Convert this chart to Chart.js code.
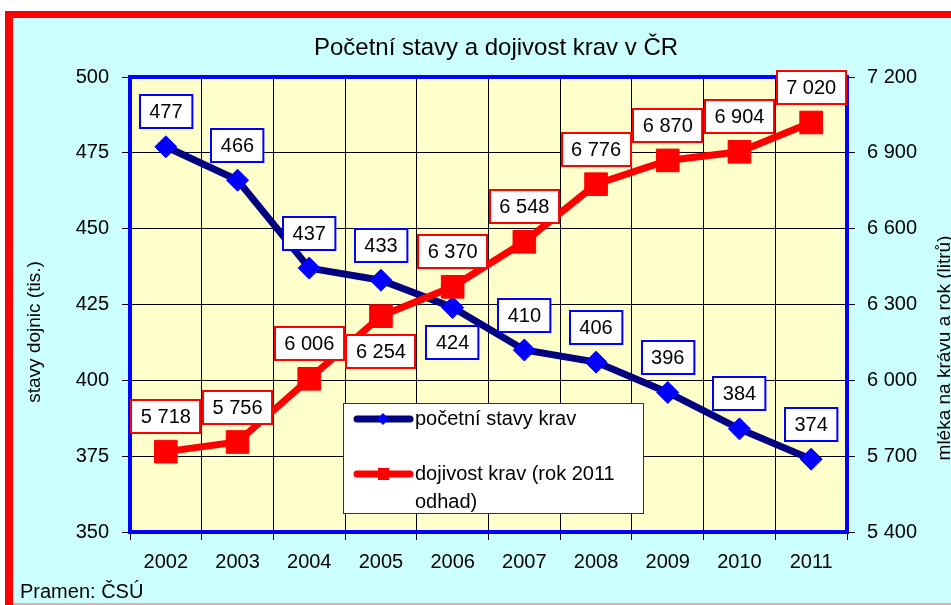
<!DOCTYPE html>
<html>
<head>
<meta charset="utf-8">
<script src="https://cdn.jsdelivr.net/npm/chart.js@4/dist/chart.umd.min.js"></script>
<style>
html,body{margin:0;padding:0;background:#fff;}
canvas{display:block;}
</style>
</head>
<body>
<canvas id="c" width="951" height="605"></canvas>
<script>
// ---- data ----
const years = ['2002','2003','2004','2005','2006','2007','2008','2009','2010','2011'];
const herdSize = [477, 466, 437, 433, 424, 410, 406, 396, 384, 374];          // thousands of cows
const milkYield = [5718, 5756, 6006, 6254, 6370, 6548, 6776, 6870, 6904, 7020]; // litres per cow per year
const herdLabel = 'početní stavy krav';
const milkLabel = 'dojivost krav (rok 2011 odhad)';
const titleText = 'Početní stavy a dojivost krav v ČR';
const leftAxisTitle = 'stavy dojnic (tis.)';
const rightAxisTitle = 'mléka na krávu a rok (litrů)';
const sourceText = 'Pramen: ČSÚ';

const FONT = '"Liberation Sans", Arial, sans-serif';
Chart.defaults.font.family = FONT;

function fmt(v){ return String(v).replace(/\B(?=(\d{3})+(?!\d))/g, ' '); }

// indices whose value label sits below the point
const herdBelow = new Set([4]);
const milkBelow = new Set([3]);

const framePlugin = {
  id: 'frame',
  beforeDraw(chart){
    const ctx = chart.ctx, W = chart.width, H = chart.height, a = chart.chartArea;
    ctx.save();
    ctx.fillStyle = '#ffffff'; ctx.fillRect(0,0,W,H);
    ctx.fillStyle = '#ff0000'; ctx.fillRect(5,11,W-5,H-11);
    ctx.fillStyle = '#ccffff'; ctx.fillRect(13,18,W-13,H-20);
    ctx.fillStyle = '#f4a0a0'; ctx.fillRect(13,H-2,W-13,2);
    ctx.fillStyle = '#ffffcc'; ctx.fillRect(a.left,a.top,a.right-a.left,a.bottom-a.top);
    ctx.restore();
  },
  beforeDatasetsDraw(chart){
    const ctx = chart.ctx, a = chart.chartArea;
    ctx.save();
    ctx.strokeStyle = '#0000ff'; ctx.lineWidth = 4;
    ctx.strokeRect(a.left, a.top, a.right-a.left, a.bottom-a.top);
    ctx.restore();
  },
  afterDatasetsDraw(chart){
    const ctx = chart.ctx;
    ctx.save();
    ctx.font = '20px ' + FONT;
    ctx.textAlign = 'center';
    ctx.textBaseline = 'middle';
    const drawLabels = (dsIndex, values, below, color) => {
      const meta = chart.getDatasetMeta(dsIndex);
      meta.data.forEach((pt, i) => {
        const txt = fmt(values[i]);
        const w = ctx.measureText(txt).width + 19, h = 33;
        const cy = below.has(i) ? pt.y + 35 : pt.y - 35;
        const x0 = Math.round(pt.x - w/2), y0 = Math.round(cy - h/2);
        ctx.fillStyle = '#ffffff';
        ctx.fillRect(x0, y0, w, h);
        ctx.strokeStyle = color; ctx.lineWidth = 2;
        ctx.strokeRect(x0, y0, w, h);
        ctx.fillStyle = '#000000';
        ctx.fillText(txt, pt.x, cy + 1);
      });
    };
    drawLabels(1, milkYield, milkBelow, '#ff0000');
    drawLabels(0, herdSize, herdBelow, '#0000ff');
    ctx.restore();
  },
  afterDraw(chart){
    const ctx = chart.ctx;
    ctx.save();
    ctx.fillStyle = '#000000';
    // title
    ctx.font = '24px ' + FONT;
    ctx.textAlign = 'center'; ctx.textBaseline = 'alphabetic';
    ctx.fillText(titleText, 496, 55);
    // axis titles
    ctx.font = '19px ' + FONT;
    ctx.textBaseline = 'middle';
    ctx.save(); ctx.translate(35, 332); ctx.rotate(-Math.PI/2); ctx.fillText(leftAxisTitle, 0, 0); ctx.restore();
    ctx.save(); ctx.translate(945, 348); ctx.rotate(-Math.PI/2); ctx.fillText(rightAxisTitle, 0, 0); ctx.restore();
    // source
    ctx.font = '20px ' + FONT;
    ctx.textAlign = 'left';
    ctx.fillText(sourceText, 20, 592);
    // legend
    const lx = 343, ly = 403, lw = 300, lh = 110;
    ctx.fillStyle = '#ffffff'; ctx.fillRect(lx, ly, lw, lh);
    ctx.strokeStyle = '#333333'; ctx.lineWidth = 1; ctx.strokeRect(lx+0.5, ly+0.5, lw, lh);
    ctx.lineCap = 'round'; ctx.lineWidth = 7;
    // herd sample
    ctx.strokeStyle = '#000080';
    ctx.beginPath(); ctx.moveTo(357, 419); ctx.lineTo(410, 419); ctx.stroke();
    ctx.fillStyle = '#0000ff';
    ctx.beginPath(); ctx.moveTo(383, 413); ctx.lineTo(389, 419); ctx.lineTo(383, 425); ctx.lineTo(377, 419); ctx.closePath(); ctx.fill();
    // milk sample
    ctx.strokeStyle = '#ff0000';
    ctx.beginPath(); ctx.moveTo(357, 474); ctx.lineTo(410, 474); ctx.stroke();
    ctx.fillStyle = '#ff0000'; ctx.fillRect(378, 468, 11, 12);
    ctx.fillStyle = '#000000';
    ctx.font = '20px ' + FONT;
    ctx.textBaseline = 'middle';
    ctx.fillText(herdLabel, 415, 419);
    const parts = milkLabel.split(' odhad');
    ctx.fillText(parts[0], 415, 474);
    ctx.fillText('odhad' + parts[1], 415, 502);
    ctx.restore();
  }
};

new Chart(document.getElementById('c'), {
  type: 'line',
  data: {
    labels: years,
    datasets: [
      {
        label: herdLabel, data: herdSize, yAxisID: 'y', order: 1,
        borderColor: '#000080', borderWidth: 7,
        pointStyle: 'rectRot', pointRadius: 11, pointBorderWidth: 1,
        pointBackgroundColor: '#0000ff', pointBorderColor: '#0000ff',
        tension: 0, fill: false
      },
      {
        label: milkLabel, data: milkYield, yAxisID: 'y1', order: 0,
        borderColor: '#ff0000', borderWidth: 7,
        pointStyle: 'rect', pointRadius: 16, pointBorderWidth: 1,
        pointBackgroundColor: '#ff0000', pointBorderColor: '#ff0000',
        tension: 0, fill: false
      }
    ]
  },
  options: {
    responsive: false,
    animation: false,
    devicePixelRatio: 1,
    layout: { padding: { top: 77, left: 0, right: 0, bottom: 0 } },
    plugins: { legend: { display: false }, title: { display: false }, tooltip: { enabled: false } },
    scales: {
      x: {
        offset: true,
        grid: { offset: true, color: '#000000', lineWidth: 1, tickLength: 8 },
        border: { display: false },
        ticks: { color: '#000000', font: { size: 20 }, padding: 10, maxRotation: 0, autoSkip: false },
        afterFit(s){ s.height = 73; }
      },
      y: {
        position: 'left', min: 350, max: 500,
        grid: { color: '#000000', lineWidth: 1, tickLength: 8 },
        border: { display: false },
        ticks: { stepSize: 25, color: '#000000', font: { size: 20 }, padding: 13 },
        afterFit(s){ s.width = 130; }
      },
      y1: {
        position: 'right', min: 5400, max: 7200,
        grid: { drawOnChartArea: false, color: '#000000', lineWidth: 1, tickLength: 8 },
        border: { display: false },
        ticks: { stepSize: 300, color: '#000000', font: { size: 20 }, padding: 12, callback: v => fmt(v) },
        afterFit(s){ s.width = 104; }
      }
    }
  },
  plugins: [framePlugin]
});
</script>
</body>
</html>
